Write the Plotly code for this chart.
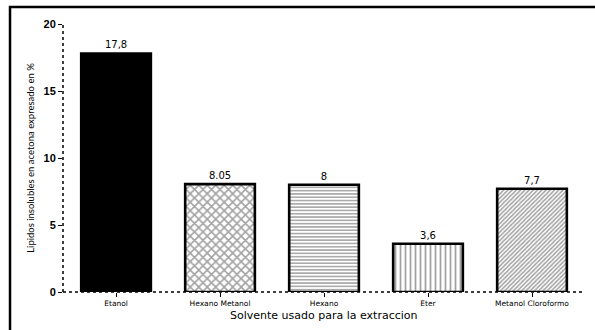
import plotly.graph_objects as go

categories = ["Etanol", "Hexano Metanol", "Hexano", "Eter", "Metanol Cloroformo"]
values = [17.8, 8.05, 8.0, 3.6, 7.7]
value_labels = ["17,8", "8.05", "8", "3,6", "7,7"]
patterns = ["", "x", "-", "|", "/"]
pattern_sizes = [8, 6, 3.3, 5, 3]
pattern_solidity = [0.3, 0.45, 0.45, 0.35, 0.5]
fill_colors = ["black", "white", "white", "white", "white"]
y_ticks = [0, 5, 10, 15, 20]

fig = go.Figure()
fig.add_trace(go.Bar(
    x=categories, y=values,
    text=value_labels, textposition="outside",
    textfont=dict(family="DejaVu Sans", size=10, color="black"),
    cliponaxis=False,
    width=0.67,
    marker=dict(
        color=fill_colors,
        line=dict(color="black", width=2.6),
        pattern=dict(shape=patterns, size=pattern_sizes, solidity=pattern_solidity,
                     fgcolor="black"),
    ),
    showlegend=False,
))

fig.update_layout(
    width=595, height=330,
    margin=dict(l=63, r=11, t=24, b=38),
    paper_bgcolor="white", plot_bgcolor="white",
    xaxis=dict(
        range=[-0.51, 4.5], showgrid=False, zeroline=False, showline=False,
        ticks="outside", ticklen=4, tickwidth=1, tickcolor="black",
        tickfont=dict(family="DejaVu Sans", size=7.5, color="black"),
    ),
    yaxis=dict(
        range=[0, 20], tickvals=y_ticks, showgrid=False, zeroline=False, showline=False,
        ticks="outside", ticklen=4, tickwidth=1, tickcolor="black",
        tickfont=dict(family="Liberation Sans", size=11, color="black", weight="bold"),
        title=dict(text="Lipidos insolubles en acetona expresado en %", standoff=7,
                   font=dict(family="Lato", size=9.5, color="black")),
    ),
    annotations=[
        dict(text="Solvente usado para la extraccion", xref="paper", yref="paper",
             x=0.5, y=-0.087, xanchor="center", yanchor="middle", showarrow=False,
             font=dict(family="DejaVu Sans", size=11, color="black")),
    ],
    shapes=[
        dict(type="line", xref="paper", yref="paper", x0=0, x1=1, y0=0, y1=0,
             line=dict(color="black", width=1.5, dash="dot")),
        dict(type="line", xref="paper", yref="paper", x0=0, x1=0, y0=0, y1=1,
             line=dict(color="black", width=1.5, dash="dot")),
        dict(type="rect", xref="paper", yref="paper", x0=-0.1017, x1=1.2, y0=-0.3, y1=1.063,
             line=dict(color="black", width=2.5), fillcolor="rgba(0,0,0,0)", layer="above"),
    ],
)

fig.write_html("out.html", config={"displayModeBar": False},
               post_script="document.body.style.margin='0';")
